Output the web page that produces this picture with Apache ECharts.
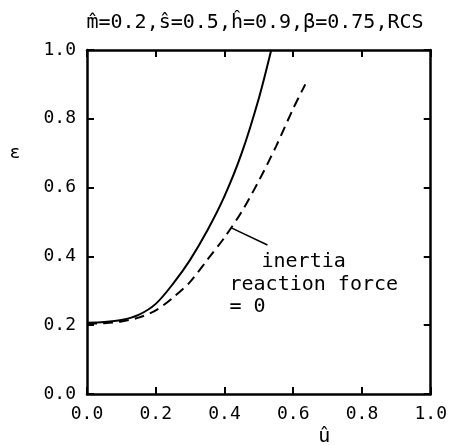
<!DOCTYPE html>
<html>
<head>
<meta charset="utf-8">
<script src="https://cdn.jsdelivr.net/npm/echarts@6/dist/echarts.min.js"></script>
<style>
  html, body { margin: 0; padding: 0; background: #fff; }
  #chart { width: 450px; height: 445px; }
</style>
</head>
<body>
<div id="chart"></div>
<script>
// curve: u (x) and epsilon (y)
const solidU = [0, 0.05, 0.1, 0.15, 0.2, 0.25, 0.3, 0.35, 0.4, 0.45, 0.5, 0.536];
const solidEps = [0.207, 0.209, 0.215, 0.23, 0.262, 0.32, 0.39, 0.475, 0.575, 0.7, 0.86, 1.0];

// inertia reaction force = 0
const dashU = [0, 0.05, 0.1, 0.15, 0.2, 0.25, 0.3, 0.35, 0.4, 0.45, 0.5, 0.55, 0.6, 0.635];
const dashEps = [0.204, 0.206, 0.211, 0.222, 0.243, 0.28, 0.326, 0.39, 0.455, 0.53, 0.62, 0.72, 0.83, 0.9];

const tickLabels = ['0.0', '0.2', '0.4', '0.6', '0.8', '1.0'];

// leader line of the note, data space
const leaderU = [0.42, 0.525];
const leaderEps = [0.483, 0.433];
const noteLines = ['inertia', 'reaction force', '= 0'];

const FONT = '"DejaVu Sans Mono", monospace';

const chart = echarts.init(document.getElementById('chart'));

const zip = (xs, ys) => xs.map((x, i) => [x, ys[i]]);

const axisCommon = {
  type: 'value',
  min: 0,
  max: 1,
  interval: 0.2,
  splitLine: { show: false },
  axisLine: { show: true, onZero: false, lineStyle: { color: '#000', width: 2.5 } },
  axisTick: { show: true, inside: true, length: 7, lineStyle: { color: '#000', width: 2 } }
};

const labelStyle = {
  fontFamily: FONT, fontSize: 18, color: '#000', margin: 11,
  formatter: v => tickLabels[Math.round(v / 0.2)]
};

const option = {
  animation: false,
  title: {
    text: 'm\u0302=0.2,s\u0302=0.5,h\u0302=0.9,\u03b2=0.75,RCS',
    left: 250,
    textAlign: 'center',
    top: 8,
    textStyle: { fontFamily: FONT, fontSize: 20, fontWeight: 'normal', color: '#000' }
  },
  grid: { left: 87, right: 18, top: 50, bottom: 51 },
  xAxis: [
    Object.assign({}, axisCommon, { position: 'bottom', axisLabel: labelStyle }),
    Object.assign({}, axisCommon, { position: 'top', axisLabel: { show: false } })
  ],
  yAxis: [
    Object.assign({}, axisCommon, { position: 'left', axisLabel: labelStyle }),
    Object.assign({}, axisCommon, { position: 'right', axisLabel: { show: false } })
  ],
  series: [
    {
      type: 'line', smooth: 0.3, symbol: 'none',
      lineStyle: { color: '#000', width: 2 },
      data: zip(solidU, solidEps)
    },
    {
      type: 'line', smooth: 0.3, symbol: 'none',
      lineStyle: { color: '#000', width: 2, type: [10, 6] },
      data: zip(dashU, dashEps)
    },
    {
      type: 'line', symbol: 'none',
      lineStyle: { color: '#000', width: 1.5 },
      data: zip(leaderU, leaderEps)
    }
  ]
};

chart.setOption(option);

// axis names and note placed by data position
const uPos = chart.convertToPixel({ xAxisIndex: 0 }, 0.69);
const epsPos = chart.convertToPixel({ yAxisIndex: 0 }, 0.7);
const noteEnd = chart.convertToPixel({ gridIndex: 0 }, [leaderU[1], leaderEps[1]]);
const noteFont = '20px ' + FONT;

chart.setOption({
  graphic: [
    {
      type: 'text', x: uPos, y: 437,
      style: { text: '\u00fb', font: '20px ' + FONT, fill: '#000', align: 'center', verticalAlign: 'middle' }
    },
    {
      type: 'text', x: 15, y: epsPos,
      style: { text: '\u03b5', font: '18px ' + FONT, fill: '#000', align: 'center', verticalAlign: 'middle' }
    },
    {
      type: 'text', x: noteEnd[0] - 6, y: noteEnd[1] + 17,
      style: { text: noteLines[0], font: noteFont, fill: '#000', verticalAlign: 'middle' }
    },
    {
      type: 'text', x: noteEnd[0] - 38, y: noteEnd[1] + 40,
      style: { text: noteLines[1], font: noteFont, fill: '#000', verticalAlign: 'middle' }
    },
    {
      type: 'text', x: noteEnd[0] - 38, y: noteEnd[1] + 62,
      style: { text: noteLines[2], font: noteFont, fill: '#000', verticalAlign: 'middle' }
    }
  ]
});
</script>
</body>
</html>
